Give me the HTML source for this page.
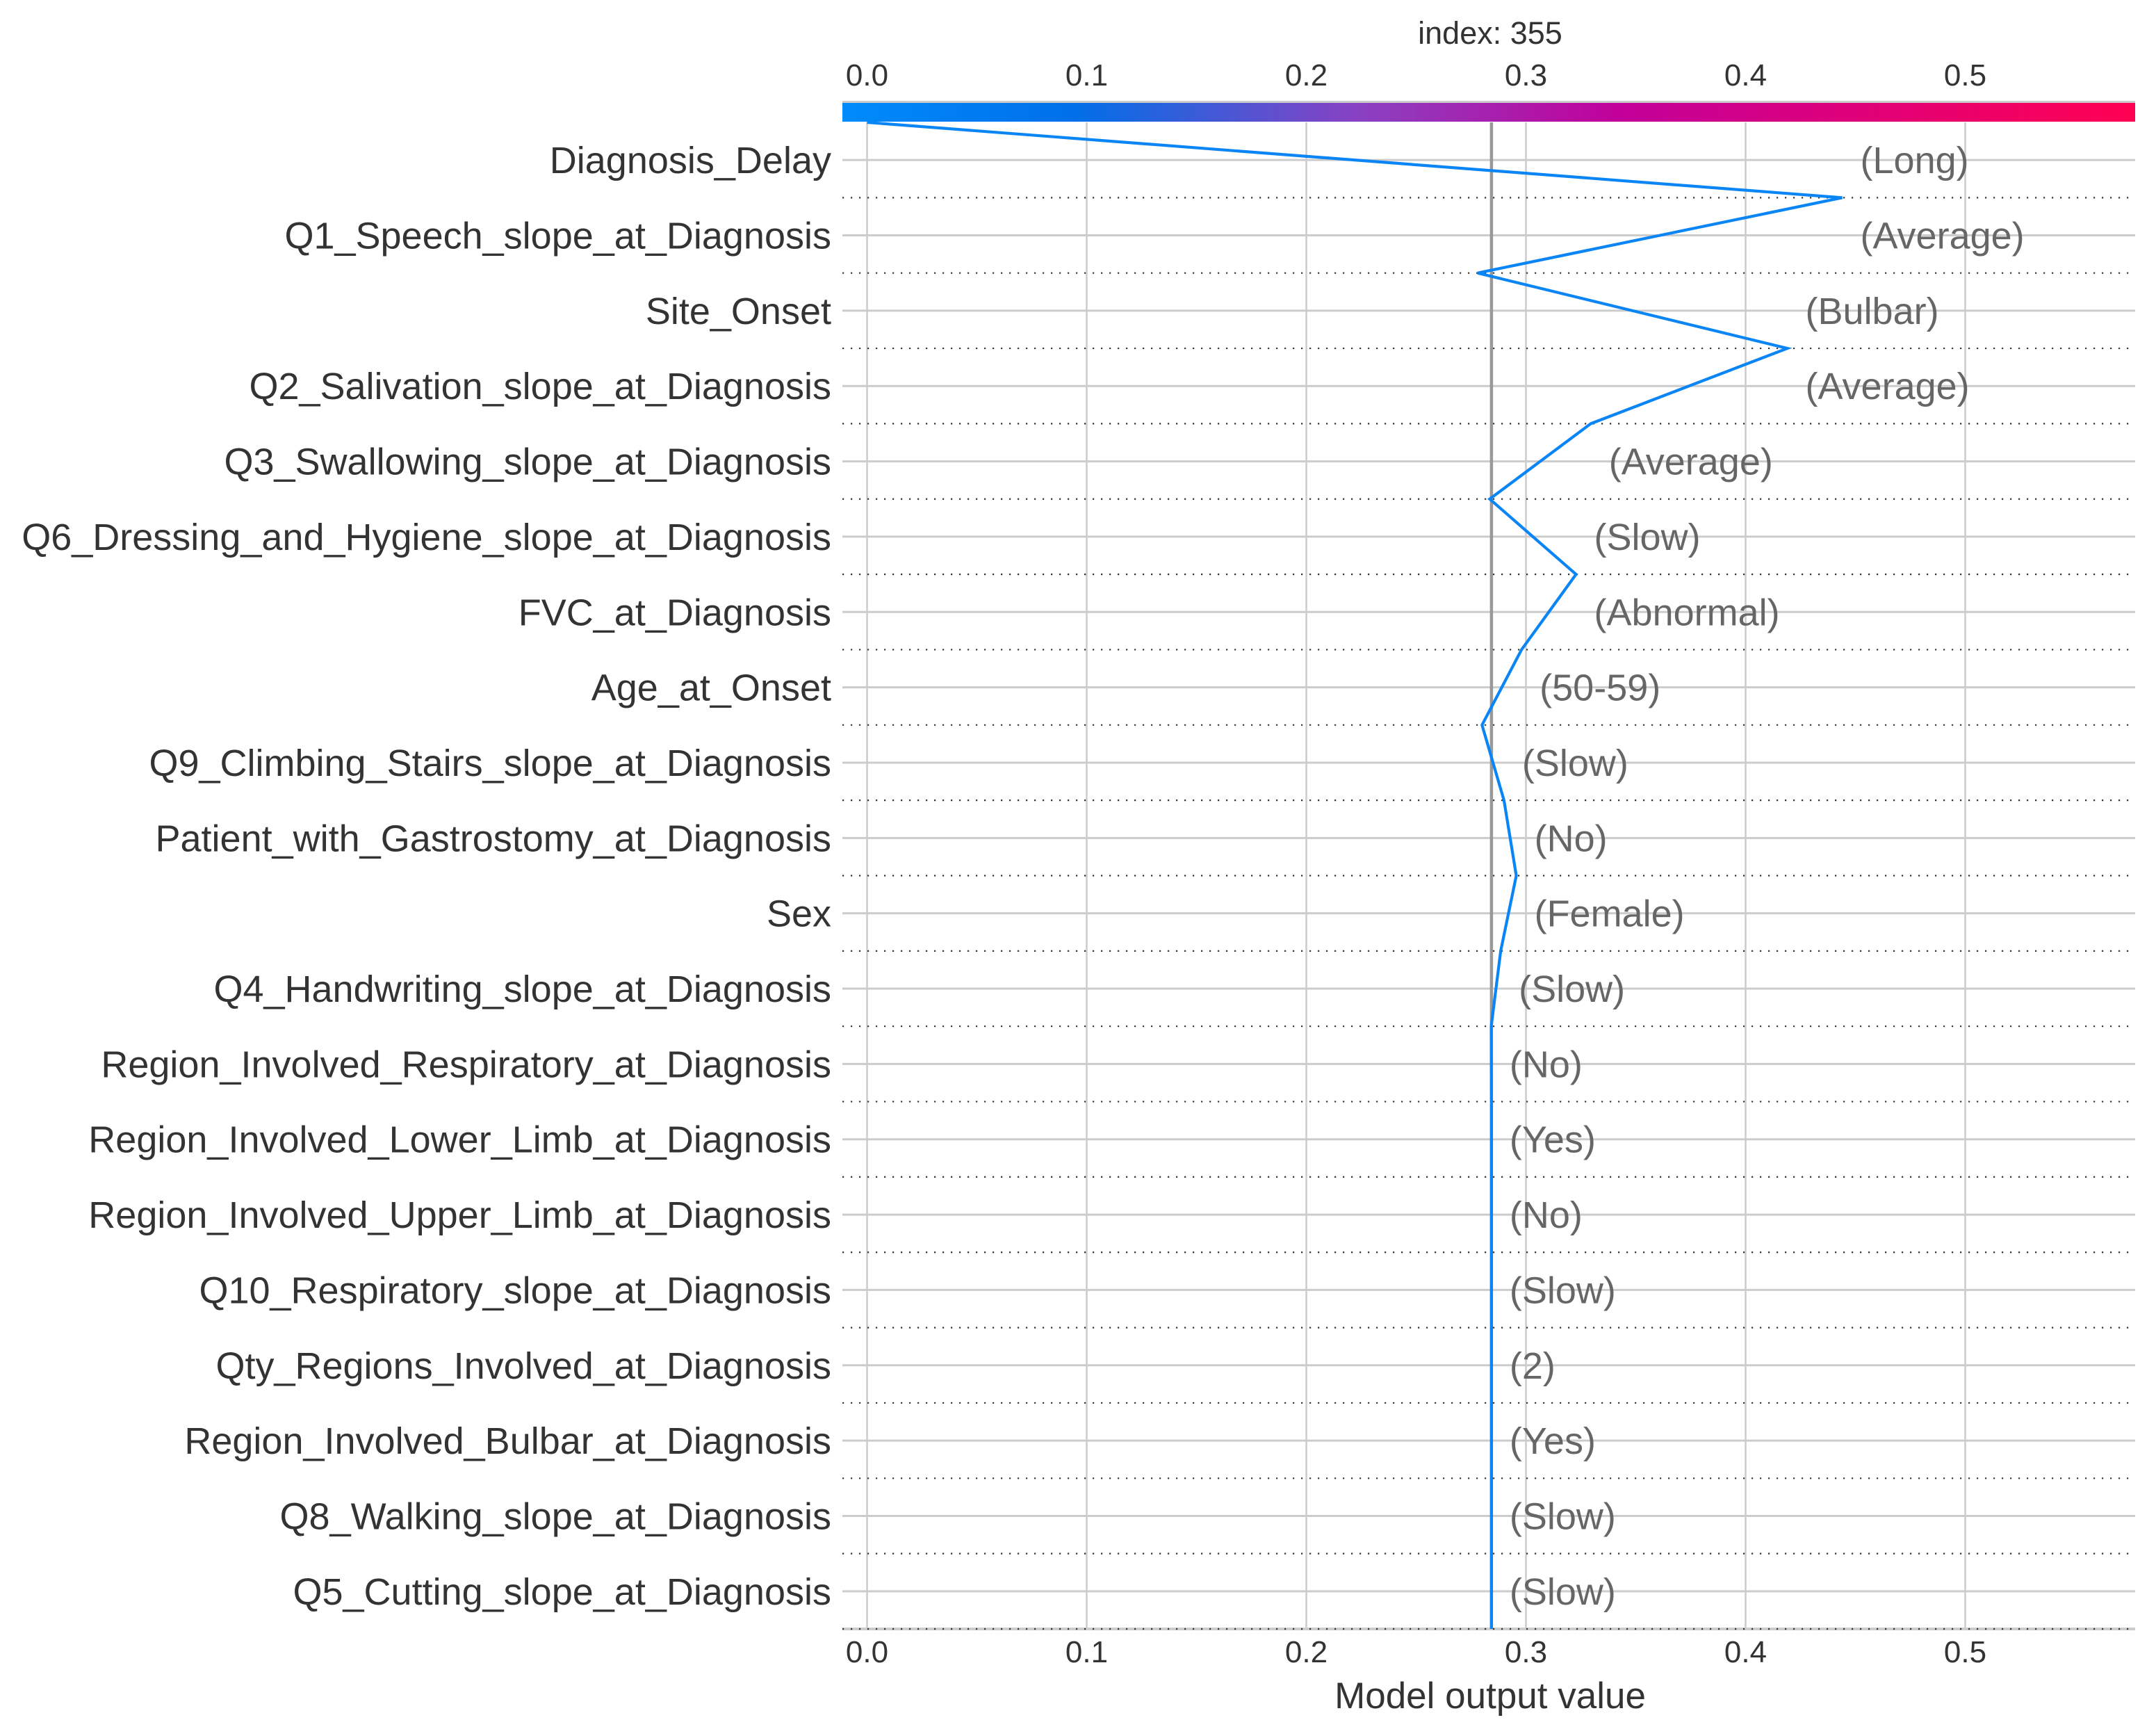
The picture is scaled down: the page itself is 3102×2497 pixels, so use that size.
<!DOCTYPE html>
<html><head><meta charset="utf-8"><style>
html,body{margin:0;padding:0;background:#fff;}
svg{display:block;font-family:"Liberation Sans",Arial,sans-serif;}
</style></head><body>
<svg id="chart" width="3102" height="2497" viewBox="0 0 3102 2497" xmlns="http://www.w3.org/2000/svg">
<defs>
<linearGradient id="cbgrad" x1="0" x2="1" y1="0" y2="0">
<stop offset="0" stop-color="#008bfb"/>
<stop offset="0.18" stop-color="#006fe8"/>
<stop offset="0.4" stop-color="#8a41c2"/>
<stop offset="0.6" stop-color="#c2009a"/>
<stop offset="1" stop-color="#ff0052"/>
</linearGradient>
</defs>
<g id="grid"></g>
<g id="rows"></g>
<g id="marks"></g>
<g id="labels"></g>
</svg>
<script>
const features = ["Diagnosis_Delay","Q1_Speech_slope_at_Diagnosis","Site_Onset","Q2_Salivation_slope_at_Diagnosis","Q3_Swallowing_slope_at_Diagnosis","Q6_Dressing_and_Hygiene_slope_at_Diagnosis","FVC_at_Diagnosis","Age_at_Onset","Q9_Climbing_Stairs_slope_at_Diagnosis","Patient_with_Gastrostomy_at_Diagnosis","Sex","Q4_Handwriting_slope_at_Diagnosis","Region_Involved_Respiratory_at_Diagnosis","Region_Involved_Lower_Limb_at_Diagnosis","Region_Involved_Upper_Limb_at_Diagnosis","Q10_Respiratory_slope_at_Diagnosis","Qty_Regions_Involved_at_Diagnosis","Region_Involved_Bulbar_at_Diagnosis","Q8_Walking_slope_at_Diagnosis","Q5_Cutting_slope_at_Diagnosis"];
const featureValues = ["(Long)","(Average)","(Bulbar)","(Average)","(Average)","(Slow)","(Abnormal)","(50-59)","(Slow)","(No)","(Female)","(Slow)","(No)","(Yes)","(No)","(Slow)","(2)","(Yes)","(Slow)","(Slow)"];
// cumulative model output at row boundaries, from top of axes to bottom (base value)
const cumulativeOutput = [0.0,0.444,0.278,0.419,0.3295,0.2835,0.3228,0.298,0.280,0.290,0.2956,0.2885,0.2842,0.2843,0.2843,0.2843,0.2843,0.2843,0.2843,0.2843,0.2843];
const baseValue = 0.2843;
const tickValues = [0.0,0.1,0.2,0.3,0.4,0.5];
const tickLabels = ["0.0","0.1","0.2","0.3","0.4","0.5"];
const titleText = "index: 355";

const NS="http://www.w3.org/2000/svg";
const X0=1212, X1=3072, TOP=176, BOT=2343;
const xs = v => 1247.5 + v*3160;
const rowH = (BOT-TOP)/features.length;
const ys = i => TOP + rowH*(i+0.5);
const by = i => TOP + rowH*i;
function mk(tag, attrs, parent){const e=document.createElementNS(NS,tag);for(const k in attrs)e.setAttribute(k,attrs[k]);parent.appendChild(e);return e;}
const grid=document.getElementById('grid'), rows=document.getElementById('rows'), marks=document.getElementById('marks'), labels=document.getElementById('labels');

tickValues.forEach((v,i)=>{
  const l=mk('line',{x1:xs(v),x2:xs(v),y1:TOP,y2:BOT,stroke:'#cccccc','stroke-width':2.5},grid);
  
  
});
features.forEach((f,i)=>{
  const l=mk('line',{x1:X0,x2:X1,y1:ys(i),y2:ys(i),stroke:'#cccccc','stroke-width':3},rows);
  
  
  const d=mk('line',{x1:X0,x2:X1,y1:by(i+1),y2:by(i+1),stroke:'#333','stroke-width':2.2,'stroke-dasharray':'2.2 9.8'},rows);
  
  
  const t=mk('text',{x:1196,y:ys(i)+19,'text-anchor':'end','font-size':54,fill:'#333333'},labels);
  t.textContent=f;
  
  
});
const sp=mk('line',{x1:X0,x2:X1,y1:BOT,y2:BOT,stroke:'#cccccc','stroke-width':4},grid);


const bl=mk('line',{x1:xs(baseValue),x2:xs(baseValue),y1:TOP,y2:BOT,stroke:'#999999','stroke-width':4.5},marks);


let pts=cumulativeOutput.map((v,i)=>xs(v)+','+by(i)).join(' ');
const pl=mk('polyline',{points:pts,fill:'none',stroke:'#0a85f5','stroke-width':4.2,'stroke-linejoin':'miter'},marks);


featureValues.forEach((s,i)=>{
  const m=Math.max(cumulativeOutput[i],cumulativeOutput[i+1]);
  const t=mk('text',{x:xs(m)+26,y:ys(i)+19,'font-size':54,fill:'#666666'},labels);
  t.textContent=s;
  
  
});
const cbb=mk('rect',{x:X0,y:145,width:X1-X0,height:3,fill:'#cccccc'},labels);


const cb=mk('rect',{x:X0,y:148,width:X1-X0,height:27,fill:'url(#cbgrad)'},labels);


tickValues.forEach((v,i)=>{
  const t=mk('text',{x:xs(v),y:123,'text-anchor':'middle','font-size':44,fill:'#333333'},labels);
  t.textContent=tickLabels[i];
  
  
  const b=mk('text',{x:xs(v),y:2391,'text-anchor':'middle','font-size':44,fill:'#333333'},labels);
  b.textContent=tickLabels[i];
  
  
});
const ti=mk('text',{x:2144,y:63,'text-anchor':'middle','font-size':45,fill:'#333333'},labels);
ti.textContent=titleText;


const xl=mk('text',{x:2144,y:2457,'text-anchor':'middle','font-size':53,fill:'#333333'},labels);
xl.textContent="Model output value";


</script>
</body></html>
